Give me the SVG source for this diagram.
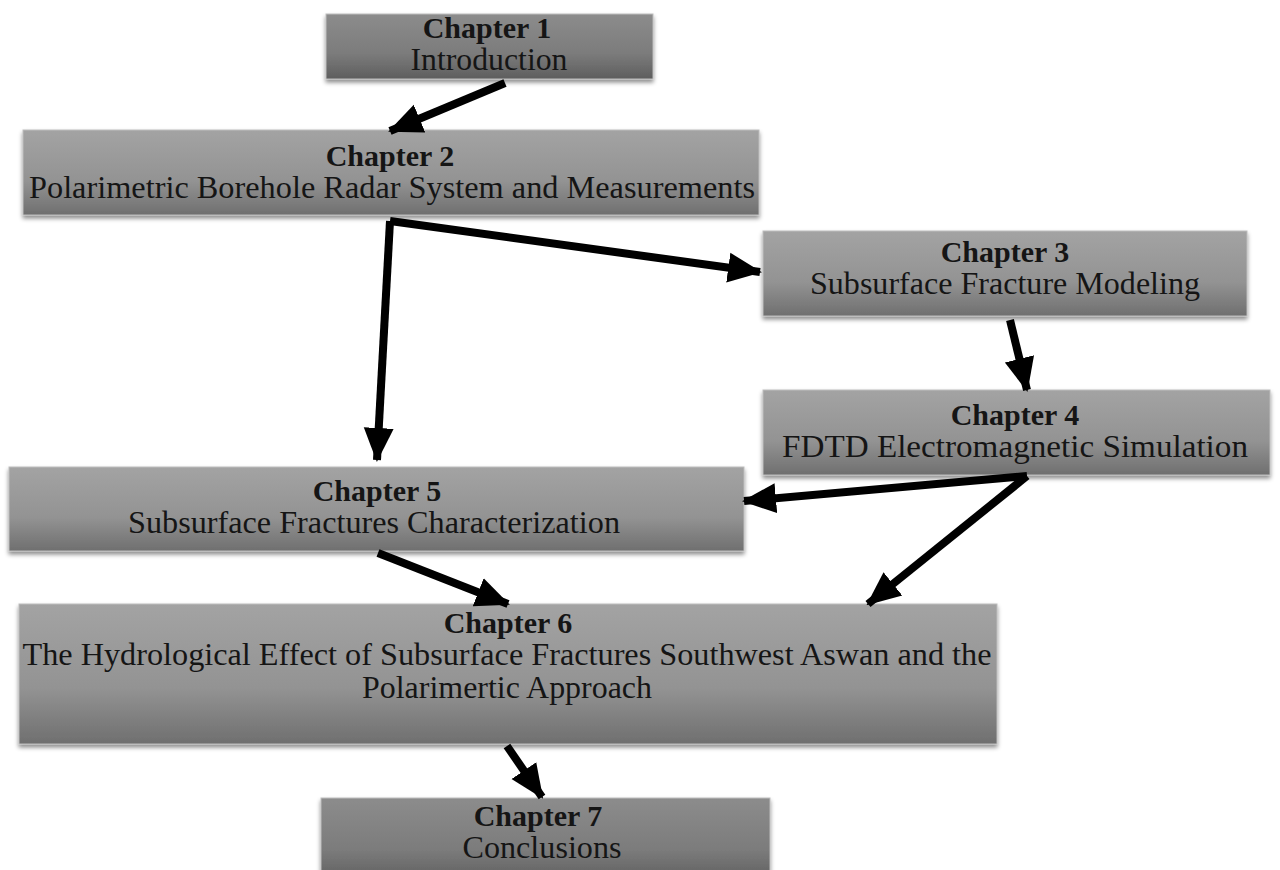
<svg xmlns="http://www.w3.org/2000/svg" width="1280" height="870" viewBox="0 0 1280 870">
<defs>
<linearGradient id="g" x1="0" y1="0" x2="0" y2="1">
<stop offset="0" stop-color="#a3a3a3"/>
<stop offset="0.6" stop-color="#939393"/>
<stop offset="1" stop-color="#6f6f6f"/>
</linearGradient>
<linearGradient id="gd" x1="0" y1="0" x2="0" y2="1">
<stop offset="0" stop-color="#8c8c8c"/>
<stop offset="0.6" stop-color="#7c7c7c"/>
<stop offset="1" stop-color="#5e5e5e"/>
</linearGradient>
<filter id="sh" x="-5%" y="-10%" width="110%" height="130%">
<feDropShadow dx="0" dy="3" stdDeviation="2" flood-color="#000" flood-opacity="0.45"/>
</filter>
<marker id="ah" markerUnits="userSpaceOnUse" markerWidth="34" markerHeight="34" viewBox="0 0 34 34" refX="32" refY="17" orient="auto">
<path d="M0,2 L34,17 L0,32 Z" fill="#000"/>
</marker>
</defs>
<style>
.box{fill:url(#g);stroke:#bdbdbd;stroke-width:1;filter:url(#sh)}
.dark{fill:url(#gd)}
.t{font-family:"Liberation Serif","Times New Roman",serif;fill:#151515;text-anchor:middle}
.b{font-weight:bold;font-size:30px}
.r{font-size:31px}
.c path{fill:none;stroke:#000;stroke-width:8;marker-end:url(#ah)}
</style>
<rect width="1280" height="870" fill="#fff"/>
<g id="ch1"><rect class="box dark" x="326" y="14" width="327" height="65"/>
<text class="t b" x="487" y="38">Chapter 1</text>
<text class="t r" x="489" y="70" textLength="157" lengthAdjust="spacingAndGlyphs">Introduction</text></g>
<g id="ch2"><rect class="box" x="23" y="130" width="736" height="85"/>
<text class="t b" x="390" y="166">Chapter 2</text>
<text class="t r" x="392" y="198" textLength="726" lengthAdjust="spacingAndGlyphs">Polarimetric Borehole Radar System and Measurements</text></g>
<g id="ch3"><rect class="box" x="763" y="231" width="484" height="85"/>
<text class="t b" x="1005" y="262">Chapter 3</text>
<text class="t r" x="1005" y="294" textLength="390" lengthAdjust="spacingAndGlyphs">Subsurface Fracture Modeling</text></g>
<g id="ch4"><rect class="box" x="763" y="390" width="507" height="85"/>
<text class="t b" x="1015" y="425">Chapter 4</text>
<text class="t r" x="1015" y="457" textLength="466" lengthAdjust="spacingAndGlyphs">FDTD Electromagnetic Simulation</text></g>
<g id="ch5"><rect class="box" x="9" y="467" width="735" height="84"/>
<text class="t b" x="377" y="501">Chapter 5</text>
<text class="t r" x="374" y="533" textLength="492" lengthAdjust="spacingAndGlyphs">Subsurface Fractures Characterization</text></g>
<g id="ch6"><rect class="box" x="19" y="604" width="978" height="140"/>
<text class="t b" x="508" y="633">Chapter 6</text>
<text class="t r" x="507" y="665" textLength="969" lengthAdjust="spacingAndGlyphs">The Hydrological Effect of Subsurface Fractures Southwest Aswan and the</text>
<text class="t r" x="507" y="698" textLength="290" lengthAdjust="spacingAndGlyphs">Polarimertic Approach</text></g>
<g id="ch7"><rect class="box dark" x="321" y="798" width="449" height="85"/>
<text class="t b" x="538" y="826">Chapter 7</text>
<text class="t r" x="542" y="858" textLength="159" lengthAdjust="spacingAndGlyphs">Conclusions</text></g>
<g id="connectors" class="c">
<path d="M505,83 L390,131"/>
<path d="M390,221 L760,272"/>
<path d="M390,221 L377,460"/>
<path d="M1010,320 L1027,390"/>
<path d="M1027,476 L744,501"/>
<path d="M1027,476 L868,604"/>
<path d="M378,553 L508,604"/>
<path d="M507,746 L542,797"/>
</g>
</svg>
